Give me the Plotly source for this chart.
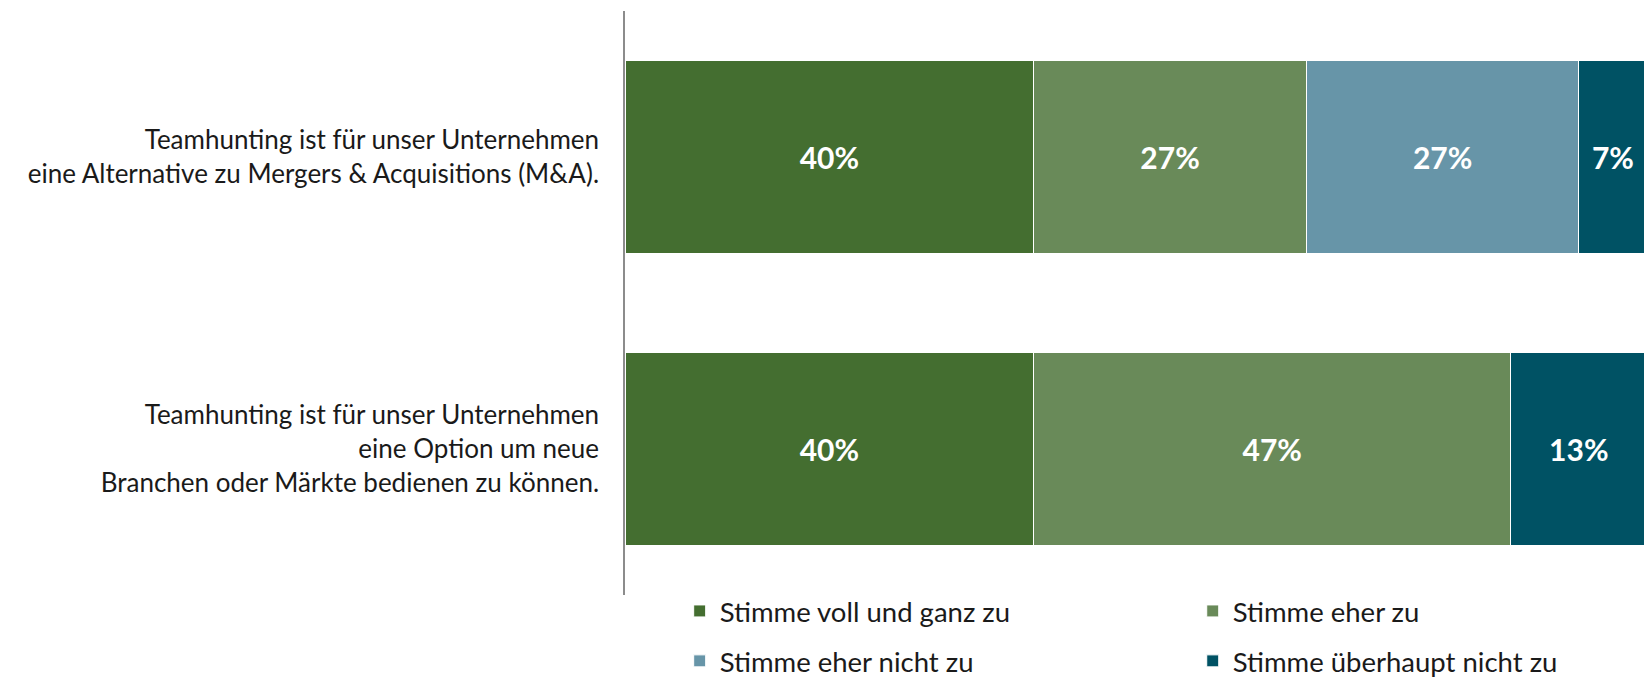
"""Teamhunting Zustimmung — gestapeltes Balkendiagramm (Plotly)."""

import plotly.graph_objects as go

statements = [
    "Teamhunting ist für unser Unternehmen<br>eine Alternative zu Mergers & Acquisitions (M&A).",
    "Teamhunting ist für unser Unternehmen<br>eine Option um neue<br>Branchen oder Märkte bedienen zu können.",
]
answers = [
    "Stimme voll und ganz zu",
    "Stimme eher zu",
    "Stimme eher nicht zu",
    "Stimme überhaupt nicht zu",
]
# Anteile in Prozent je Aussage (oben, unten)
voll_und_ganz = [40.0, 40.0]
eher_zu = [26.67, 46.67]
eher_nicht = [26.67, None]
ueberhaupt_nicht = [6.67, 13.33]

colors = ["#446E30", "#698A59", "#6795A8", "#005264"]
FONT = "Lato"

# Legende: 2 Spalten x 2 Zeilen, jede Zelle als eigene Legende
legend_ids = ["legend", "legend2", "legend3", "legend4"]
legend_x = [0.0535, 0.5555, 0.0535, 0.5555]
legend_y = [-0.0275, -0.0275, -0.113, -0.113]

fig = go.Figure()
for name, vals, col, lid in zip(
        answers, [voll_und_ganz, eher_zu, eher_nicht, ueberhaupt_nicht], colors, legend_ids):
    fig.add_trace(go.Bar(
        x=vals,
        y=statements,
        name=name,
        orientation="h",
        marker=dict(color=col, line=dict(color="white", width=1)),
        texttemplate="%{x:.0f}%",
        textposition="inside",
        insidetextanchor="middle",
        textangle=0,
        constraintext="none",
        textfont=dict(family=FONT, size=30, color="white", weight="bold"),
        legend=lid,
        hoverinfo="skip",
    ))

legends = {}
for lid, lx, ly in zip(legend_ids, legend_x, legend_y):
    legends[lid] = dict(
        x=lx,
        y=ly,
        xanchor="left",
        yanchor="middle",
        font=dict(family=FONT, size=27.5, color="#1a1a1a"),
        bgcolor="rgba(0,0,0,0)",
        itemclick=False,
        itemdoubleclick=False,
    )

fig.update_layout(
    barmode="stack",
    bargap=0.34,
    width=1644,
    height=683,
    paper_bgcolor="white",
    plot_bgcolor="white",
    font=dict(family=FONT, size=26, color="#1a1a1a"),
    margin=dict(l=617, r=5, t=3, b=96),
    showlegend=True,
    xaxis=dict(range=[0, 100.01], visible=False, fixedrange=True),
    yaxis=dict(
        autorange="reversed",
        automargin=False,
        showline=True,
        linecolor="#8c8c8c",
        linewidth=1.5,
        ticks="",
        ticklabelstandoff=19,
        tickfont=dict(family=FONT, size=26, color="#1a1a1a"),
        fixedrange=True,
    ),
    **legends,
)

fig.write_html("out.html")
